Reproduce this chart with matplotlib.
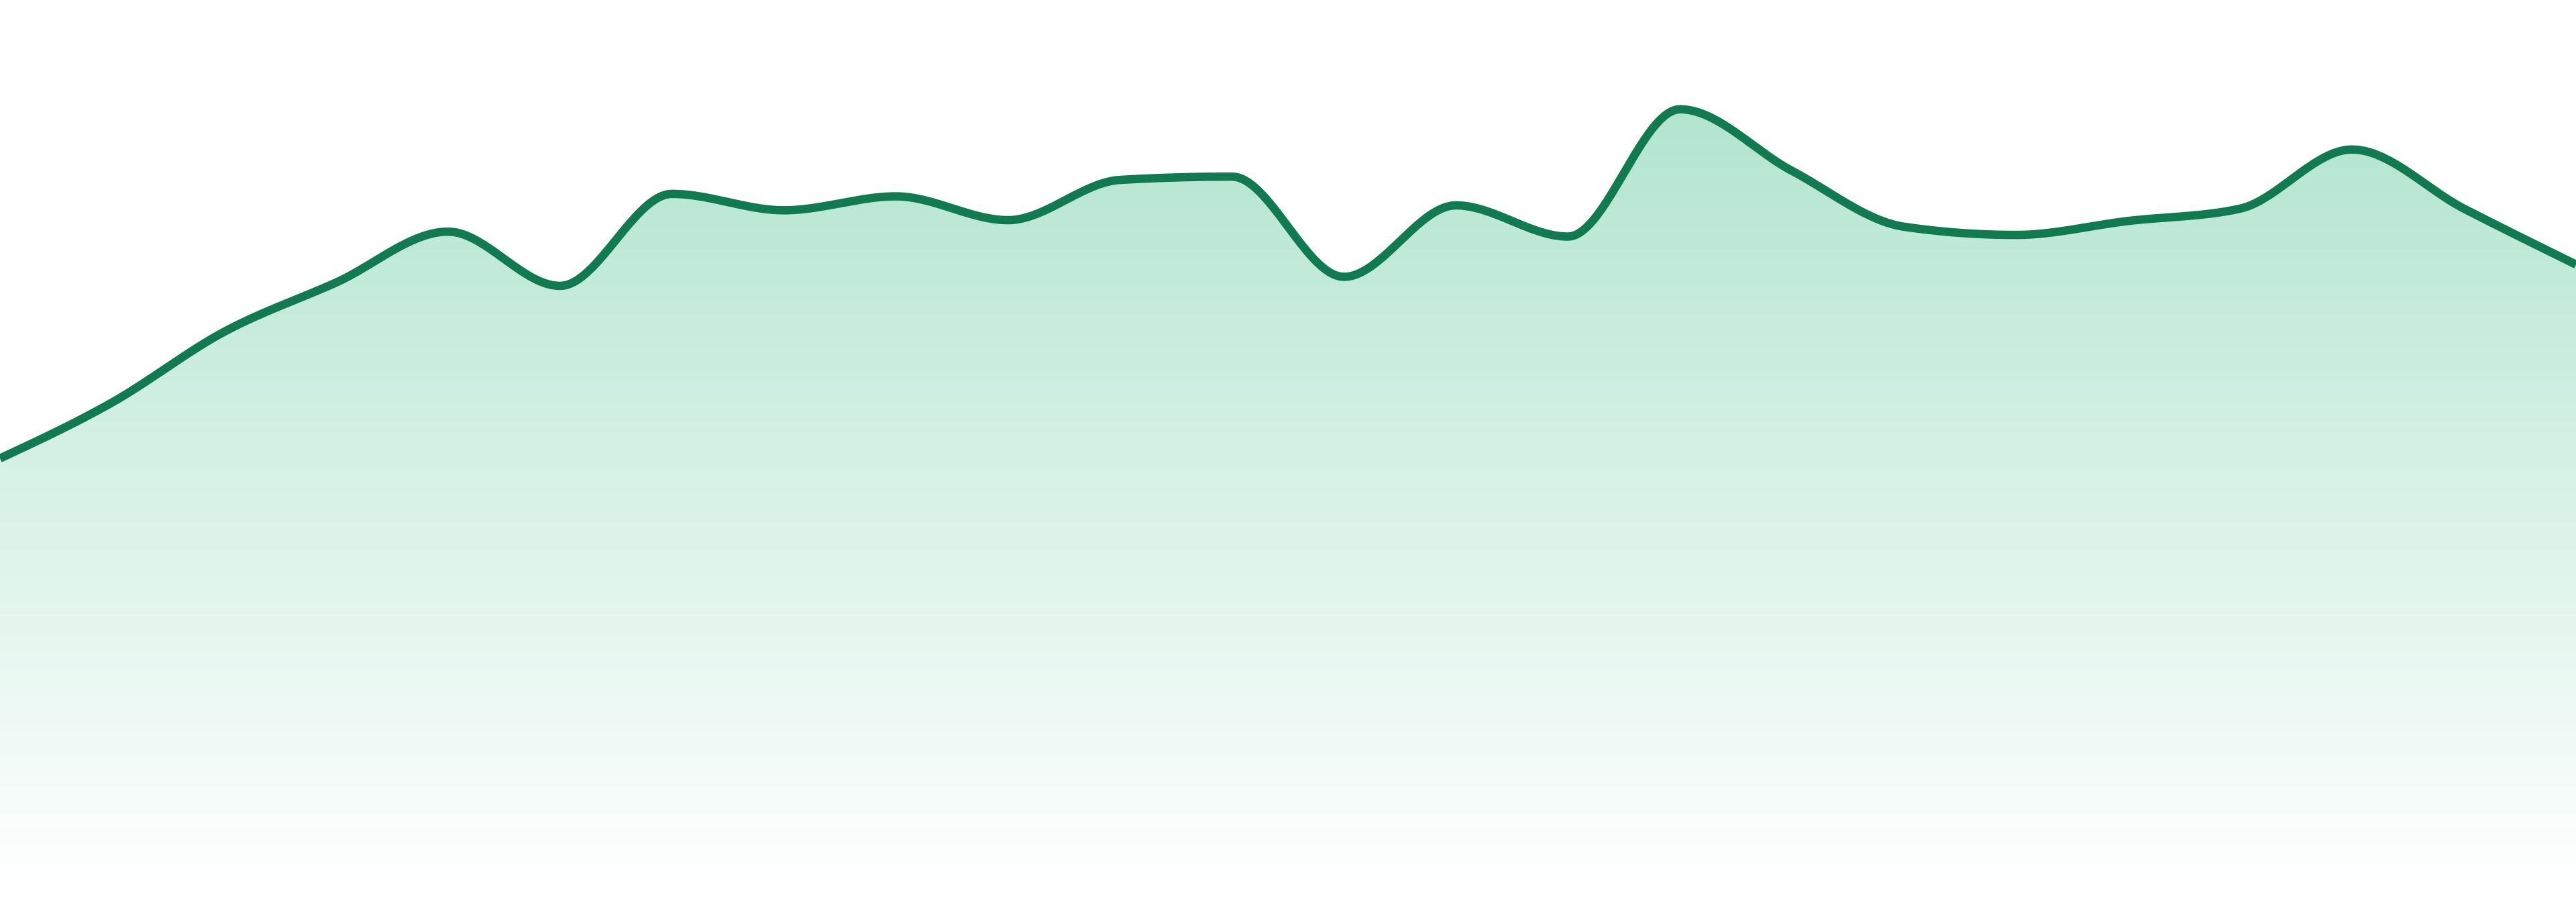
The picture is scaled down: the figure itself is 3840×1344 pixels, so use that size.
import numpy as np
import matplotlib
matplotlib.use("Agg")
import matplotlib.pyplot as plt
from matplotlib.patches import Polygon

# ---- data (24 evenly spaced samples) ----
x_index = list(range(24))
values = [254, 288, 331, 361, 392, 359, 415, 405, 413.5, 399, 423.5, 425.5,
          364.5, 408, 389, 466.5, 429, 395, 390, 398.5, 406, 442, 406, 372]

LINE_COLOR = "#117a50"
TOP_RGB = np.array([178, 229, 207]) / 255.0
BOT_RGB = np.array([254, 255, 255]) / 255.0


def monotone_x(x, y, n=40):
    """d3 curveMonotoneX style interpolation (Fritsch-Carlson / Steffen)."""
    x = np.asarray(x, float)
    y = np.asarray(y, float)
    m = len(x)
    h = np.diff(x)
    s = np.diff(y) / h
    t = np.zeros(m)
    for i in range(1, m - 1):
        h0, h1 = h[i - 1], h[i]
        s0, s1 = s[i - 1], s[i]
        p = (s0 * h1 + s1 * h0) / (h0 + h1)
        t[i] = (np.sign(s0) + np.sign(s1)) * min(abs(s0), abs(s1), 0.5 * abs(p))
    t[0] = (3 * s[0] - t[1]) / 2
    t[-1] = (3 * s[-1] - t[-2]) / 2
    xs, ys = [], []
    for i in range(m - 1):
        u = np.linspace(0, 1, n, endpoint=(i == m - 2))
        hh = h[i]
        h00 = 2 * u**3 - 3 * u**2 + 1
        h10 = u**3 - 2 * u**2 + u
        h01 = -2 * u**3 + 3 * u**2
        h11 = u**3 - u**2
        xs.append(x[i] + u * hh)
        ys.append(h00 * y[i] + h10 * hh * t[i] + h01 * y[i + 1] + h11 * hh * t[i + 1])
    return np.concatenate(xs), np.concatenate(ys)


fig = plt.figure(figsize=(38.4, 13.44), dpi=100)
ax = fig.add_axes([0, 0, 1, 1])
ax.set_axis_off()

xs, ys = monotone_x(x_index, values)
ymin, ymax = -16, 533

# gradient fill clipped by the area under the curve
top = max(values)
nrow = 600
frac = np.linspace(0, 1, nrow)[:, None]  # 0 at top (data max) -> 1 at baseline
grad = TOP_RGB[None, :] * (1 - frac) + BOT_RGB[None, :] * frac
grad = np.repeat(grad[:, None, :], 2, axis=1)
im = ax.imshow(grad, extent=[x_index[0], x_index[-1], 0, top], aspect="auto",
               origin="upper", interpolation="bilinear", zorder=1)
poly_pts = np.column_stack([np.concatenate([[xs[0]], xs, [xs[-1]]]),
                            np.concatenate([[0], ys, [0]])])
clip = Polygon(poly_pts, closed=True, transform=ax.transData, facecolor="none",
               edgecolor="none")
ax.add_patch(clip)
im.set_clip_path(clip)

ax.plot(xs, ys, color=LINE_COLOR, linewidth=9.0, solid_capstyle="butt",
        solid_joinstyle="round", zorder=3)

ax.set_autoscale_on(False)
ax.set_xlim(x_index[0], x_index[-1])
ax.set_ylim(ymin, ymax)

fig.savefig("out.png", dpi=100, facecolor="white")
